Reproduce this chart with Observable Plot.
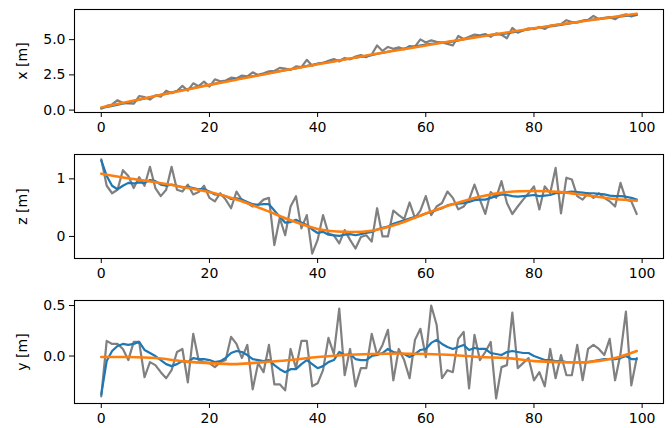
<!DOCTYPE html>
<html><head><meta charset="utf-8">
<script src="https://cdn.jsdelivr.net/npm/d3@7"></script>
<script src="https://cdn.jsdelivr.net/npm/@observablehq/plot@0.6"></script>
<style>body{margin:0;background:#fff} svg{display:block}</style>
</head><body><div id="chart"></div>
<script>
const xTicks = [0, 20, 40, 60, 80, 100];
const sparseIdx = [0,5,10,15,20,25,30,35,40,45,50,55,60,65,70,75,80,85,90,95,99];

// Panel 1: x [m]
const xGray = [0.10,0.30,0.40,0.70,0.50,0.48,0.45,1.00,0.92,0.75,1.05,0.95,1.38,1.20,1.35,1.72,1.38,1.90,1.70,2.02,
1.67,2.18,2.05,2.10,2.30,2.25,2.45,2.40,2.68,2.50,2.62,2.75,2.78,3.00,2.95,2.85,3.10,3.05,3.57,3.15,
3.30,3.35,3.50,3.62,3.45,3.70,3.60,3.80,3.90,3.76,3.95,4.59,4.20,4.48,4.35,4.45,4.31,4.55,4.50,5.02,
4.80,4.95,4.85,4.80,4.70,4.59,5.26,5.05,5.20,5.36,5.30,5.40,5.20,5.45,5.35,5.10,5.83,5.50,5.65,5.80,
5.75,5.90,5.76,6.00,6.05,6.10,6.38,6.25,6.20,6.35,6.40,6.69,6.45,6.55,6.60,6.45,6.70,6.80,6.64,6.75];
const xBlue = [0.15,0.55,1.00,1.42,1.80,2.20,2.55,2.90,3.28,3.60,3.90,4.30,4.65,4.88,5.25,5.45,5.80,6.05,6.38,6.60,6.78];
const xOrange = [0.19,0.60,1.00,1.39,1.79,2.16,2.53,2.90,3.25,3.59,3.94,4.27,4.59,4.91,5.21,5.51,5.80,6.09,6.36,6.63,6.84];

// Panel 2: z [m]
const zGray = [1.34,0.88,0.75,0.81,1.15,1.05,0.84,1.03,0.88,1.21,0.84,0.70,0.81,1.21,0.81,0.78,0.90,0.73,0.77,0.88,
0.67,0.61,0.75,0.64,0.49,0.78,0.63,0.58,0.52,0.55,0.64,0.67,-0.15,0.32,0.02,0.52,0.70,0.14,0.37,-0.30,
-0.06,0.37,0.05,0.02,-0.12,0.11,-0.06,-0.21,-0.01,0.02,-0.09,0.49,0.00,0.00,0.45,0.37,0.30,0.59,0.32,0.45,
0.70,0.37,0.52,0.58,0.78,0.67,0.47,0.52,0.64,0.90,0.64,0.39,0.77,0.67,0.96,0.58,0.39,0.52,0.64,0.75,
0.87,0.47,0.87,0.75,1.19,0.40,1.02,0.99,0.70,0.64,0.75,0.67,0.75,0.67,0.61,0.52,0.93,0.64,0.61,0.39];
const zBlue = [1.32,1.05,0.88,0.82,0.88,0.93,0.92,0.94,0.93,0.98,0.96,0.90,0.88,0.90,0.88,0.85,0.86,0.84,0.82,0.82,
0.78,0.73,0.72,0.70,0.65,0.66,0.64,0.60,0.56,0.55,0.56,0.56,0.45,0.34,0.24,0.25,0.29,0.24,0.20,0.12,
0.06,0.08,0.03,0.02,0.01,0.03,0.04,0.02,0.04,0.06,0.08,0.12,0.15,0.17,0.22,0.25,0.28,0.31,0.34,0.36,
0.40,0.42,0.46,0.49,0.54,0.56,0.57,0.58,0.60,0.63,0.64,0.64,0.67,0.70,0.73,0.72,0.70,0.69,0.70,0.71,
0.72,0.70,0.71,0.72,0.75,0.76,0.77,0.78,0.77,0.76,0.75,0.75,0.74,0.73,0.71,0.70,0.70,0.69,0.67,0.64];
const zOrange = [1.09,1.01,0.94,0.86,0.77,0.64,0.47,0.28,0.13,0.08,0.10,0.22,0.40,0.56,0.69,0.77,0.79,0.77,0.71,0.65,0.62];

// Panel 3: y [m]
const yGray = [-0.40,0.15,0.12,0.12,0.07,-0.04,0.14,0.14,-0.21,-0.06,-0.09,-0.16,-0.22,-0.14,0.04,0.07,-0.26,0.22,-0.04,-0.06,
-0.07,-0.11,-0.06,-0.04,0.19,0.12,-0.02,0.11,-0.33,-0.07,-0.16,0.11,-0.28,-0.28,-0.34,0.07,-0.12,0.15,0.15,-0.30,
-0.27,-0.14,0.18,0.02,0.47,-0.19,0.07,-0.30,-0.12,-0.12,0.22,0.01,0.11,0.26,-0.24,0.07,-0.04,-0.22,0.16,0.27,
-0.01,0.50,0.31,-0.22,-0.14,-0.16,0.17,0.24,-0.32,0.21,-0.04,0.04,0.14,-0.42,-0.11,-0.09,0.43,-0.12,-0.07,-0.02,
-0.24,-0.16,-0.30,0.07,-0.22,0.01,-0.19,-0.19,0.11,-0.24,0.07,0.11,0.07,0.01,0.17,-0.24,0.02,0.44,-0.29,-0.02];
const yBlue = [-0.38,-0.05,0.05,0.10,0.12,0.11,0.12,0.14,0.06,0.03,0.00,-0.04,-0.08,-0.10,-0.08,-0.05,-0.06,-0.02,-0.03,-0.03,
-0.04,-0.06,-0.05,-0.02,0.03,0.05,0.04,0.01,-0.03,-0.04,-0.05,-0.04,-0.09,-0.13,-0.16,-0.13,-0.13,-0.08,-0.04,-0.08,
-0.12,-0.10,-0.06,-0.04,0.04,0.01,0.02,-0.03,-0.04,-0.04,0.00,0.01,0.03,0.07,0.04,0.03,0.02,-0.01,0.02,0.06,
0.07,0.13,0.16,0.12,0.09,0.07,0.09,0.11,0.06,0.08,0.07,0.07,0.03,0.02,0.01,0.04,0.05,0.04,0.03,0.03,
0.00,-0.02,-0.04,-0.04,-0.05,-0.05,-0.06,-0.06,-0.06,-0.06,-0.06,-0.05,-0.04,-0.03,-0.03,-0.03,-0.02,0.00,-0.03,-0.03];
const yOrange = [-0.01,-0.01,-0.02,-0.05,-0.07,-0.08,-0.06,-0.04,-0.01,0.01,0.02,0.025,0.02,0.01,-0.01,-0.02,-0.05,-0.06,-0.06,-0.02,0.05];

const panels = [
  {gray: xGray, blue: xBlue, blueIdx: sparseIdx, orange: xOrange, domain: [-0.17, 7.14], ticks: [0, 2.5, 5], fmt: d3.format(".1f"), label: "x [m]", mt: 9, h: 103, mb: 31},
  {gray: zGray, blue: zBlue, blueIdx: null, orange: zOrange, domain: [-0.383, 1.423], ticks: [0, 1], fmt: d3.format("d"), label: "z [m]", mt: 11, h: 104, mb: 31},
  {gray: yGray, blue: yBlue, blueIdx: null, orange: yOrange, domain: [-0.47, 0.55], ticks: [0, 0.5], fmt: d3.format(".1f"), label: "y [m]", mt: 11, h: 103, mb: 25}
];

const root = document.getElementById("chart");
for (const p of panels) {
  const blueX = p.blueIdx ? (d, i) => p.blueIdx[i] : (d, i) => i;
  const svg = Plot.plot({
    width: 672, height: p.mt + p.h + p.mb,
    marginTop: p.mt, marginBottom: p.mb, marginLeft: 74, marginRight: 9,
    style: {fontFamily: "DejaVu Sans", fontSize: "14px", color: "black", background: "white"},
    x: {domain: [-4.95, 103.95]},
    y: {domain: p.domain},
    marks: [
      Plot.axisX({ticks: xTicks, tickSize: 5, tickPadding: 5, label: null, fontSize: 14}),
      Plot.axisY({ticks: p.ticks, tickFormat: p.fmt, tickSize: 5, tickPadding: 4, fontSize: 14,
        label: p.label, labelAnchor: "center", labelArrow: "none", labelOffset: 57}),
      Plot.line(p.gray, {x: (d, i) => i, y: d => d, stroke: "#808080", strokeWidth: 2.2}),
      Plot.line(p.blue, {x: blueX, y: d => d, stroke: "#1f77b4", strokeWidth: 2.2, curve: p.blueIdx ? "catmull-rom" : "linear"}),
      Plot.line(p.orange, {x: (d, i) => sparseIdx[i], y: d => d, stroke: "#ff7f0e", strokeWidth: 2.6, curve: "catmull-rom"}),
      Plot.frame({stroke: "black", strokeWidth: 1.1})
    ]
  });
  root.appendChild(svg);
}
</script>
</body></html>
